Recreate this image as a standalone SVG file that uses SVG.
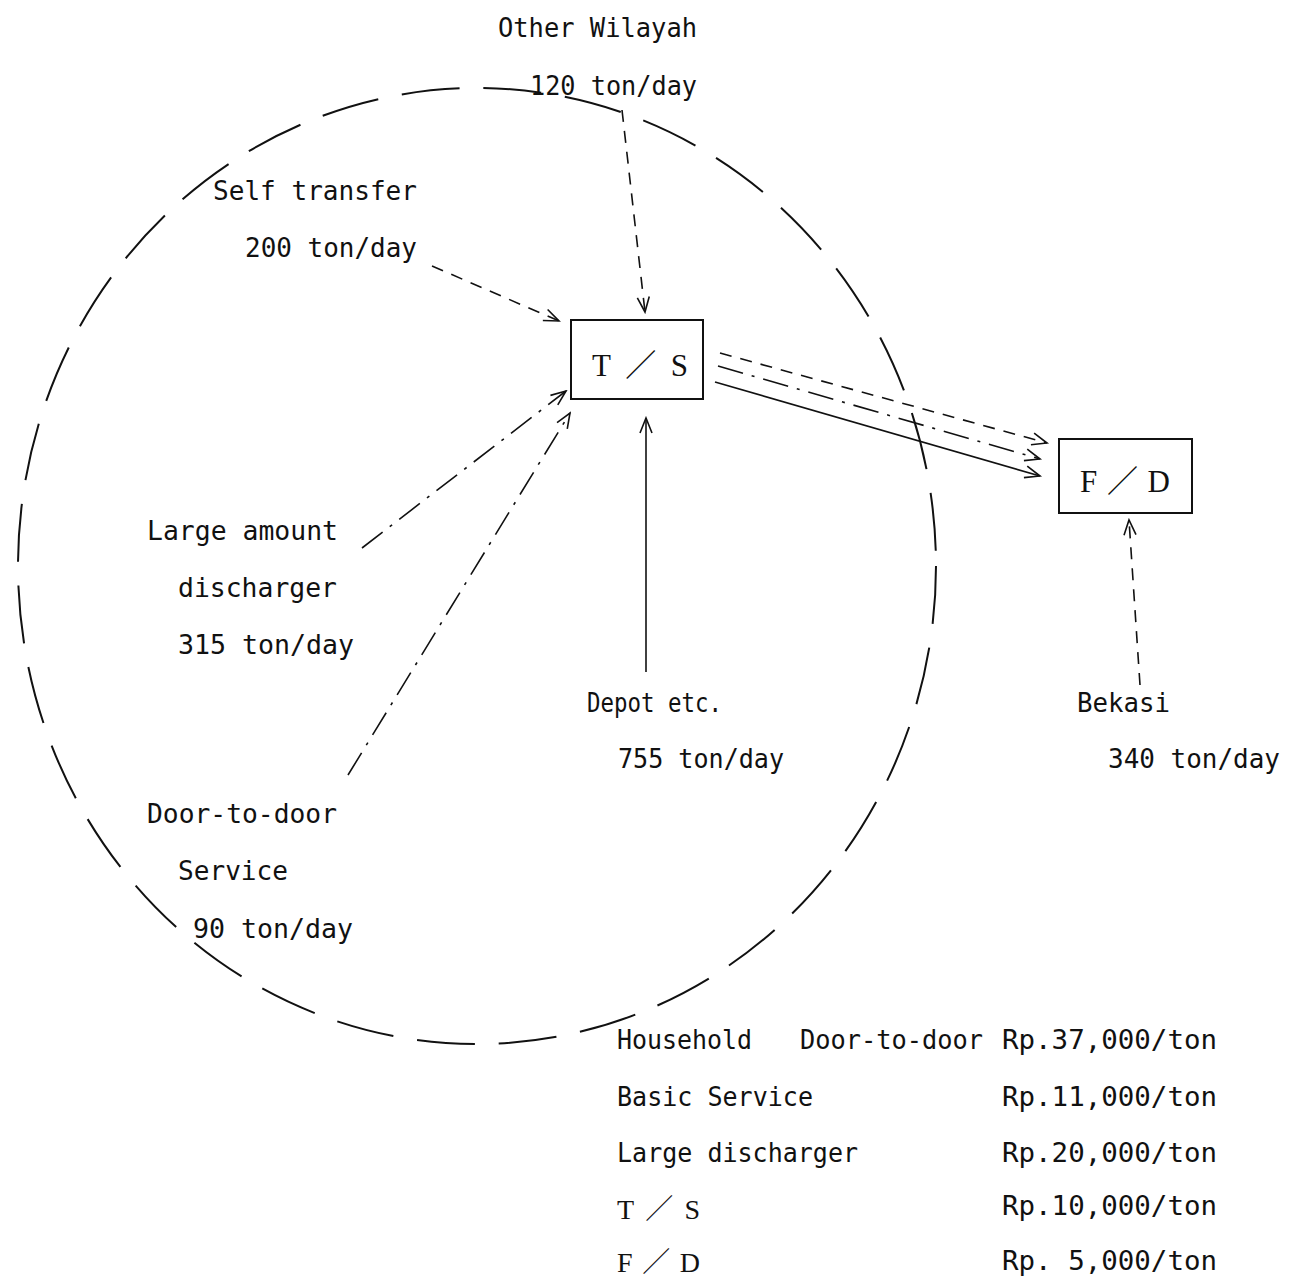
<svg xmlns="http://www.w3.org/2000/svg" width="1295" height="1280" viewBox="0 0 1295 1280">
  <style>
    .lbl { font-family: "DejaVu Sans Mono", "Liberation Mono", monospace; font-size: 26px; fill: #111; }
    .box-lbl { font-family: "Liberation Serif", "Noto Sans CJK JP", serif; font-size: 31px; fill: #111; }
    .key-lbl { font-family: "Liberation Serif", "Noto Sans CJK JP", serif; font-size: 28px; fill: #111; }
    .box { fill: none; stroke: #111; stroke-width: 2; }
    .area { fill: none; stroke: #111; stroke-width: 2; stroke-dasharray: 58 24; }
    .flow { fill: none; stroke: #111; stroke-width: 1.6; }
    .dash { stroke-dasharray: 12 9; }
    .dashdot { stroke-dasharray: 26 9 3 9; }
  </style>
  <defs>
    <marker id="head" viewBox="0 0 20 16" refX="18" refY="8" markerWidth="20" markerHeight="16" markerUnits="userSpaceOnUse" orient="auto">
      <path d="M3,2 L18,8 L3,14" fill="none" stroke="#111" stroke-width="1.6"/>
    </marker>
  </defs>

  <rect width="1295" height="1280" fill="#fff"/>

  <!-- service area boundary -->
  <ellipse class="area" cx="477" cy="566" rx="459" ry="478"/>

  <!-- connectors -->
  <g id="connectors">
    <line class="flow dash" x1="622" y1="110" x2="645" y2="312" marker-end="url(#head)"/>
    <line class="flow dash" x1="432" y1="266" x2="559" y2="321" marker-end="url(#head)"/>
    <line class="flow dashdot" x1="362" y1="548" x2="566" y2="391" marker-end="url(#head)"/>
    <line class="flow dashdot" x1="348" y1="775" x2="570" y2="413" marker-end="url(#head)"/>
    <line class="flow" x1="646" y1="672" x2="646" y2="418" marker-end="url(#head)"/>
    <line class="flow dash" x1="720" y1="353" x2="1047" y2="443" marker-end="url(#head)"/>
    <line class="flow dashdot" x1="718" y1="366" x2="1040" y2="459" marker-end="url(#head)"/>
    <line class="flow" x1="715" y1="382" x2="1040" y2="476" marker-end="url(#head)"/>
    <line class="flow dash" x1="1140" y1="685" x2="1129" y2="520" marker-end="url(#head)"/>
  </g>

  <!-- transfer station -->
  <g id="node-ts">
    <rect class="box" x="571" y="320" width="132" height="79"/>
    <text class="box-lbl" x="592" y="376" textLength="96" lengthAdjust="spacing">T／S</text>
  </g>

  <!-- final disposal -->
  <g id="node-fd">
    <rect class="box" x="1059" y="439" width="133" height="74"/>
    <text class="box-lbl" x="1080" y="492" textLength="90" lengthAdjust="spacing">F／D</text>
  </g>

  <g id="src-other-wilayah">
    <text class="lbl" x="498" y="37" textLength="199" lengthAdjust="spacingAndGlyphs">Other Wilayah</text>
    <text class="lbl" x="530" y="95" textLength="167" lengthAdjust="spacingAndGlyphs">120 ton/day</text>
  </g>

  <g id="src-self-transfer">
    <text class="lbl" x="213" y="200" textLength="204" lengthAdjust="spacingAndGlyphs">Self transfer</text>
    <text class="lbl" x="245" y="257" textLength="172" lengthAdjust="spacingAndGlyphs">200 ton/day</text>
  </g>

  <g id="src-large-discharger">
    <text class="lbl" x="147" y="540" textLength="191" lengthAdjust="spacingAndGlyphs">Large amount</text>
    <text class="lbl" x="178" y="597" textLength="159" lengthAdjust="spacingAndGlyphs">discharger</text>
    <text class="lbl" x="178" y="654" textLength="176" lengthAdjust="spacingAndGlyphs">315 ton/day</text>
  </g>

  <g id="src-door-to-door">
    <text class="lbl" x="147" y="823" textLength="190" lengthAdjust="spacingAndGlyphs">Door-to-door</text>
    <text class="lbl" x="178" y="880" textLength="110" lengthAdjust="spacingAndGlyphs">Service</text>
    <text class="lbl" x="193" y="938" textLength="160" lengthAdjust="spacingAndGlyphs">90 ton/day</text>
  </g>

  <g id="src-depot">
    <text class="lbl" x="587" y="712" textLength="135" lengthAdjust="spacingAndGlyphs">Depot etc.</text>
    <text class="lbl" x="618" y="768" textLength="166" lengthAdjust="spacingAndGlyphs">755 ton/day</text>
  </g>

  <g id="src-bekasi">
    <text class="lbl" x="1077" y="712" textLength="93" lengthAdjust="spacingAndGlyphs">Bekasi</text>
    <text class="lbl" x="1108" y="768" textLength="172" lengthAdjust="spacingAndGlyphs">340 ton/day</text>
  </g>

  <!-- unit cost table -->
  <g id="cost-table">
    <text class="lbl" x="617" y="1049" textLength="135" lengthAdjust="spacingAndGlyphs">Household</text>
    <text class="lbl" x="800" y="1049" textLength="183" lengthAdjust="spacingAndGlyphs">Door-to-door</text>
    <text class="lbl" x="1002" y="1049" textLength="215" lengthAdjust="spacingAndGlyphs">Rp.37,000/ton</text>
    <text class="lbl" x="617" y="1106" textLength="196" lengthAdjust="spacingAndGlyphs">Basic Service</text>
    <text class="lbl" x="1002" y="1106" textLength="215" lengthAdjust="spacingAndGlyphs">Rp.11,000/ton</text>
    <text class="lbl" x="617" y="1162" textLength="241" lengthAdjust="spacingAndGlyphs">Large discharger</text>
    <text class="lbl" x="1002" y="1162" textLength="215" lengthAdjust="spacingAndGlyphs">Rp.20,000/ton</text>
    <text class="key-lbl" x="617" y="1219" textLength="83" lengthAdjust="spacing">T／S</text>
    <text class="lbl" x="1002" y="1215" textLength="215" lengthAdjust="spacingAndGlyphs">Rp.10,000/ton</text>
    <text class="key-lbl" x="617" y="1272" textLength="83" lengthAdjust="spacing">F／D</text>
    <text class="lbl" x="1002" y="1270" textLength="215" lengthAdjust="spacingAndGlyphs">Rp. 5,000/ton</text>
  </g>
</svg>
